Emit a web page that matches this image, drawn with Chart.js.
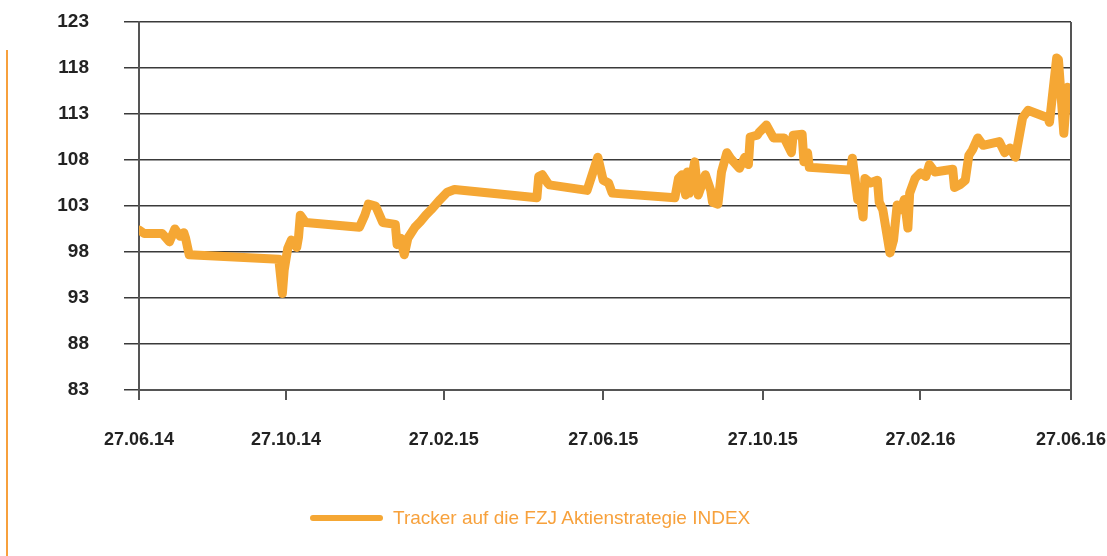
<!DOCTYPE html>
<html>
<head>
<meta charset="utf-8">
<script src="https://cdn.jsdelivr.net/npm/chart.js@4.4.0/dist/chart.umd.min.js"></script>
<style>
  html, body { margin: 0; padding: 0; background: #fff; }
  #wrap { position: relative; width: 1107px; height: 556px; }
  #sideLine { position: absolute; left: 6px; top: 50px; width: 2px; height: 506px; background: #F7A03C; }
  #legend { position: absolute; left: 310px; top: 505px; height: 26px; display: flex; align-items: center;
            font-family: "Liberation Sans", Arial, sans-serif; font-size: 19px; color: #F7A13C; }
  #legend .swatch { width: 73px; height: 6px; border-radius: 3px; background: #F5A734; margin-right: 10px; }
</style>
</head>
<body>
<div id="wrap">
  <canvas id="chart" width="1107" height="556"></canvas>
  <div id="sideLine"></div>
  <div id="legend"><span class="swatch"></span><span>Tracker auf die FZJ Aktienstrategie INDEX</span></div>
</div>
<script>
// trading-day index along the x axis, 0 = 27.06.14, 520 = 27.06.16
var tickDays = [0, 82, 170, 259, 348, 436, 520];
var tickLabels = ['27.06.14', '27.10.14', '27.02.15', '27.06.15', '27.10.15', '27.02.16', '27.06.16'];
var yTicks = [83, 88, 93, 98, 103, 108, 113, 118, 123];

// index values
var days = [0, 3, 13, 17, 20, 23, 25, 26, 28, 78, 80, 81, 83, 85, 88, 89, 90, 93, 123, 126,
  128, 132, 136, 143, 144, 146, 148, 150, 154, 157, 160, 163, 168, 172, 176, 222, 223, 225, 228, 229,
  250, 256, 259, 262, 264, 299, 301, 303, 305, 306, 307, 310, 312, 316, 319, 320, 323, 325, 328, 330,
  335, 338, 340, 341, 345, 346, 350, 354, 360, 364, 365, 370, 371, 373, 374, 397, 398, 401, 402, 404,
  405, 408, 412, 413, 415, 419, 421, 423, 425, 427, 429, 430, 433, 436, 439, 441, 444, 454, 455, 458,
  461, 463, 465, 468, 471, 480, 483, 486, 489, 490, 493, 496, 507, 508, 512, 513, 516, 518, 519];
var values = [100.4, 100.0, 100.0, 99.1, 100.5, 99.7, 100.1, 99.5, 97.7, 97.2, 93.5, 96.0, 98.4, 99.3, 98.5, 99.6, 102.0, 101.2, 100.7, 102.0,
  103.2, 103.0, 101.2, 101.0, 98.8, 99.5, 97.7, 99.5, 100.7, 101.3, 102.0, 102.6, 103.7, 104.5, 104.8, 103.9, 106.2, 106.4, 105.5, 105.3,
  104.7, 108.3, 105.8, 105.5, 104.4, 103.9, 106.0, 106.4, 104.2, 106.7, 104.4, 107.8, 104.2, 106.4, 104.7, 103.4, 103.2, 106.7, 108.8, 108.2,
  107.1, 108.3, 107.5, 110.5, 110.7, 111.0, 111.8, 110.4, 110.4, 108.8, 110.7, 110.8, 107.8, 108.8, 107.2, 106.9, 108.2, 103.7, 104.7, 101.8,
  106.0, 105.5, 105.8, 103.4, 102.6, 97.9, 99.3, 103.1, 102.6, 103.7, 100.6, 104.4, 106.0, 106.6, 106.2, 107.5, 106.7, 107.0, 105.0, 105.3,
  105.8, 108.5, 109.1, 110.4, 109.6, 110.0, 108.8, 109.3, 108.3, 109.4, 112.6, 113.4, 112.6, 112.1, 119.1, 118.9, 110.9, 115.9, 115.8];

var points = days.map(function(d, i) { return { x: d, y: values[i] }; });

var rightBorder = {
  id: 'rightBorder',
  afterDraw: function(chart) {
    var a = chart.chartArea, ctx = chart.ctx;
    ctx.save();
    ctx.strokeStyle = '#555';
    ctx.lineWidth = 2;
    ctx.beginPath();
    ctx.moveTo(a.right, a.top);
    ctx.lineTo(a.right, a.bottom);
    ctx.stroke();
    ctx.restore();
  }
};

var ctx = document.getElementById('chart').getContext('2d');
var myChart = new Chart(ctx, {
  type: 'line',
  data: {
    datasets: [{
      label: 'Tracker auf die FZJ Aktienstrategie INDEX',
      data: points,
      borderColor: '#F5A734',
      borderWidth: 9,
      borderJoinStyle: 'round',
      borderCapStyle: 'round',
      pointRadius: 0,
      tension: 0,
      fill: false
    }]
  },
  options: {
    responsive: false,
    animation: false,
    layout: { padding: { top: 22, left: 0, right: 36, bottom: 106 } },
    plugins: { legend: { display: false }, tooltip: { enabled: false } },
    scales: {
      x: {
        type: 'linear',
        min: 0,
        max: 520,
        afterBuildTicks: function(s) { s.ticks = tickDays.map(function(v) { return { value: v }; }); },
        afterFit: function(s) { s.height = 60; s.paddingLeft = 0; s.paddingRight = 0; },
        grid: { drawOnChartArea: false, color: '#555', lineWidth: 2, tickLength: 10 },
        border: { color: '#555', width: 2 },
        ticks: {
          autoSkip: false,
          maxRotation: 0,
          padding: 29,
          color: '#222',
          font: { family: '"Liberation Sans Narrow", "Liberation Sans", Arial, sans-serif', size: 18, weight: 'bold' },
          callback: function(v) { var i = tickDays.indexOf(v); return i >= 0 ? tickLabels[i] : ''; }
        }
      },
      y: {
        min: 83,
        max: 123,
        afterBuildTicks: function(s) { s.ticks = yTicks.map(function(v) { return { value: v }; }); },
        afterFit: function(s) { s.width = 139; s.paddingTop = 0; s.paddingBottom = 0; },
        grid: { color: '#3a3a3a', lineWidth: 1.5, tickLength: 15 },
        border: { color: '#555', width: 2 },
        ticks: {
          padding: 35,
          color: '#222',
          font: { family: '"Liberation Sans", Arial, sans-serif', size: 19, weight: 'bold' }
        }
      }
    }
  },
  plugins: [rightBorder]
});
</script>
</body>
</html>
